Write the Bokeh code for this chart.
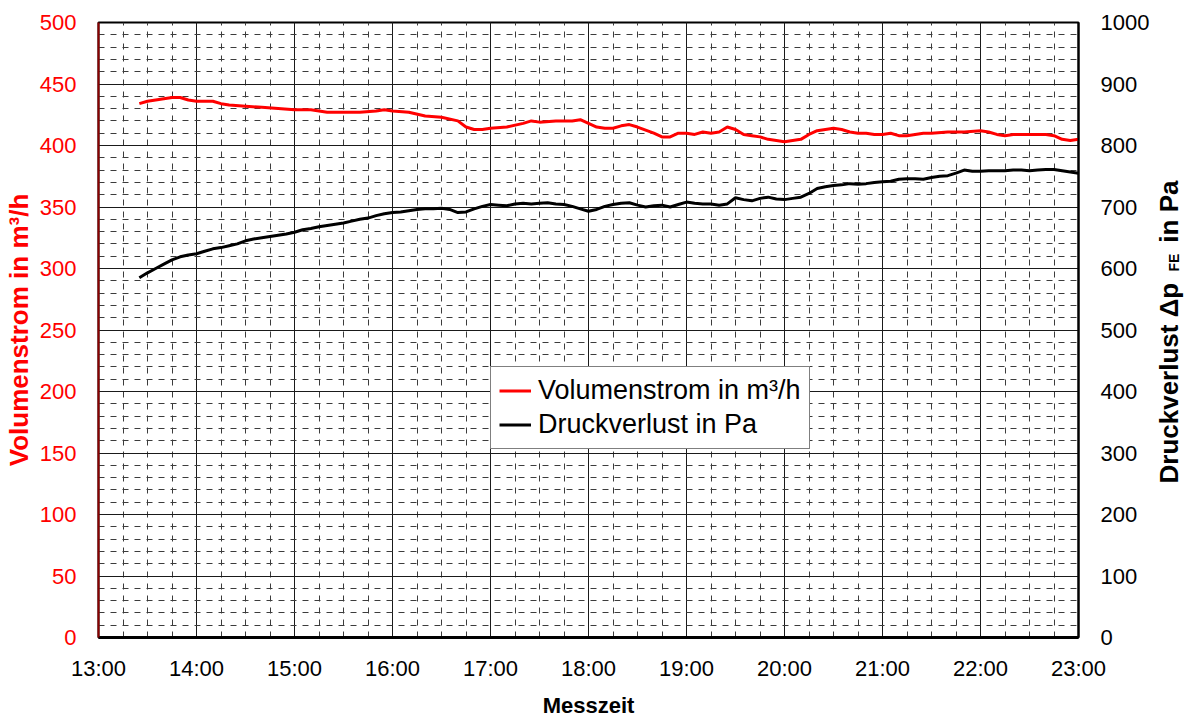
import math
from bokeh.plotting import figure
from bokeh.layouts import row
from bokeh.models import Range1d, LinearAxis, FixedTicker, Legend, LegendItem
from bokeh.core.properties import value
from bokeh.embed import file_html
from bokeh.resources import INLINE

# ---------------- data ----------------
hour_ticks = [13, 14, 15, 16, 17, 18, 19, 20, 21, 22, 23]
hour_labels = ["13:00", "14:00", "15:00", "16:00", "17:00", "18:00",
               "19:00", "20:00", "21:00", "22:00", "23:00"]
vol_ticks = [0, 50, 100, 150, 200, 250, 300, 350, 400, 450, 500]
pa_ticks = [0, 100, 200, 300, 400, 500, 600, 700, 800, 900, 1000]

vol_times = ["13:25", "13:30", "13:35", "13:40", "13:45", "13:50", "13:55", "14:00", "14:05", "14:10",
             "14:15", "14:20", "14:30", "14:40", "14:50", "15:00", "15:10", "15:20", "15:30", "15:40",
             "15:50", "15:55", "16:00", "16:10", "16:20", "16:30", "16:40", "16:45", "16:50", "16:55",
             "17:00", "17:10", "17:20", "17:25", "17:30", "17:40", "17:50", "17:55", "18:00", "18:05",
             "18:10", "18:15", "18:20", "18:25", "18:30", "18:40", "18:45", "18:50", "18:55", "19:00",
             "19:05", "19:10", "19:15", "19:20", "19:25", "19:30", "19:35", "19:40", "19:45", "19:50",
             "19:55", "20:00", "20:05", "20:10", "20:15", "20:20", "20:25", "20:30", "20:35", "20:40",
             "20:45", "20:50", "20:55", "21:00", "21:05", "21:10", "21:15", "21:20", "21:25", "21:30",
             "21:40", "21:50", "22:00", "22:05", "22:10", "22:15", "22:20", "22:30", "22:40", "22:45",
             "22:50", "22:55", "23:00"]
vol_values = [434, 436, 437, 438, 439, 439, 437, 436, 436, 436,
              434, 433, 432, 431, 430, 429, 429, 427, 427, 427,
              428, 429, 428, 427, 424, 423, 420, 415, 413, 413,
              414, 415, 418, 420, 419, 420, 420, 421, 418, 415,
              414, 414, 416, 417, 415, 410, 407, 407, 410, 410,
              409, 411, 410, 411, 415, 413, 409, 408, 407, 405,
              404, 403, 404, 405, 409, 412, 413, 414, 413, 411,
              410, 410, 409, 409, 410, 408, 408, 409, 410, 410,
              411, 411, 412, 411, 409, 408, 409, 409, 409, 408,
              405, 404, 405]

dp_times = ["13:25", "13:30", "13:35", "13:40", "13:45", "13:50", "13:55", "14:00", "14:05", "14:10",
            "14:15", "14:20", "14:25", "14:30", "14:35", "14:40", "14:45", "14:50", "14:55", "15:00",
            "15:05", "15:10", "15:15", "15:20", "15:25", "15:30", "15:35", "15:40", "15:45", "15:50",
            "15:55", "16:00", "16:05", "16:10", "16:15", "16:20", "16:25", "16:30", "16:35", "16:40",
            "16:45", "16:50", "16:55", "17:00", "17:05", "17:10", "17:15", "17:20", "17:25", "17:30",
            "17:35", "17:40", "17:45", "17:50", "17:55", "18:00", "18:05", "18:10", "18:15", "18:20",
            "18:25", "18:30", "18:35", "18:40", "18:45", "18:50", "18:55", "19:00", "19:05", "19:10",
            "19:15", "19:20", "19:25", "19:30", "19:35", "19:40", "19:45", "19:50", "19:55", "20:00",
            "20:05", "20:10", "20:15", "20:20", "20:25", "20:30", "20:35", "20:40", "20:45", "20:50",
            "20:55", "21:00", "21:05", "21:10", "21:15", "21:20", "21:25", "21:30", "21:35", "21:40",
            "21:45", "21:50", "21:55", "22:00", "22:05", "22:10", "22:15", "22:20", "22:25", "22:30",
            "22:35", "22:40", "22:45", "22:50", "22:55", "23:00"]
dp_values = [585, 593, 600, 607, 614, 619, 622, 624, 628, 632,
             634, 637, 640, 645, 648, 650, 652, 654, 656, 659,
             663, 665, 668, 670, 672, 674, 677, 680, 682, 686,
             689, 691, 692, 694, 696, 697, 697, 698, 696, 691,
             692, 697, 701, 704, 703, 702, 705, 706, 705, 706,
             707, 705, 704, 701, 697, 693, 696, 701, 704, 706,
             707, 703, 700, 702, 703, 700, 704, 708, 706, 705,
             705, 703, 705, 715, 712, 710, 714, 716, 713, 712,
             714, 716, 722, 730, 733, 735, 736, 738, 737, 738,
             740, 741, 742, 745, 746, 746, 745, 748, 750, 751,
             755, 760, 758, 758, 759, 759, 759, 760, 760, 759,
             760, 761, 761, 759, 757, 755]

right_title_parts = ["Druckverlust Δp", "FE", "in Pa"]


def to_hours(t):
    h, m = t.split(":")
    return int(h) + int(m) / 60.0


vol_x = [to_hours(t) for t in vol_times]
dp_x = [to_hours(t) for t in dp_times]

FONT = "Liberation Sans"

p = figure(width=1152, height=720, output_backend="svg", toolbar_location=None,
           x_range=Range1d(13, 23), y_range=Range1d(0, 500),
           min_border_left=98, min_border_right=72, min_border_top=22, min_border_bottom=83)
p.extra_y_ranges = {"pa": Range1d(0, 1000)}
p.background_fill_color = "white"
p.border_fill_color = "white"
p.outline_line_color = "black"
p.outline_line_width = 2

# tickers / grids
quarter = [13 + i * 0.25 for i in range(41)]
tens = list(range(0, 501, 10))
xt = FixedTicker(ticks=hour_ticks, minor_ticks=quarter)
yt = FixedTicker(ticks=vol_ticks, minor_ticks=tens)
p.xaxis.ticker = xt
p.yaxis.ticker = yt
p.xgrid.ticker = xt
p.ygrid.ticker = yt
for g in (p.xgrid, p.ygrid):
    g.grid_line_color = "#1a1a1a"
    g.grid_line_width = 1
    g.minor_grid_line_color = "#3c3c3c"
    g.minor_grid_line_width = 1
    g.minor_grid_line_dash = "6 6"

p.xaxis.major_label_overrides = {h: l for h, l in zip(hour_ticks, hour_labels)}

# right axis
ra = LinearAxis(y_range_name="pa", ticker=FixedTicker(ticks=pa_ticks))
p.add_layout(ra, "right")

for ax in p.axis:
    ax.major_tick_line_color = None
    ax.minor_tick_line_color = None
    ax.major_label_text_font = FONT
    ax.major_label_text_font_size = "22px"
    ax.major_label_standoff = 16
    ax.axis_label_text_font = FONT
    ax.axis_label_text_font_style = "bold"

p.xaxis.axis_line_color = "black"
p.xaxis.axis_line_width = 3
p.xaxis.major_label_text_color = "black"
p.xaxis.major_label_standoff = 12
p.xaxis.axis_label = "Messzeit"
p.xaxis.axis_label_text_font_size = "22px"
p.xaxis.axis_label_text_color = "black"
p.xaxis.axis_label_standoff = 9

p.yaxis[0].axis_line_color = "#8B0000"
p.yaxis[0].axis_line_width = 2
p.yaxis[0].major_label_text_color = "#FF0000"
p.yaxis[0].axis_label = "Volumenstrom in m³/h"
p.yaxis[0].axis_label_text_color = "#FF0000"
p.yaxis[0].axis_label_text_font_size = "26px"
p.yaxis[0].axis_label_standoff = 3

ra.axis_line_color = "black"
ra.axis_line_width = 2
ra.major_label_text_color = "black"

# lines
r_vol = p.line(vol_x, vol_values, line_color="#FF0000", line_width=3)
r_dp = p.line(dp_x, dp_values, line_color="black", line_width=3, y_range_name="pa")

legend = Legend(items=[LegendItem(label="Volumenstrom in m³/h", renderers=[r_vol]),
                       LegendItem(label="Druckverlust in Pa", renderers=[r_dp])],
                location=(392, 188))
legend.label_text_font = FONT
legend.label_text_font_size = "27px"
legend.label_text_color = "black"
legend.border_line_color = "black"
legend.border_line_width = 1
legend.background_fill_color = "white"
legend.background_fill_alpha = 1
legend.glyph_width = 32
legend.glyph_height = 31
legend.label_height = 31
legend.label_standoff = 7
legend.padding = 8
legend.spacing = 3
p.add_layout(legend)

# narrow strip on the right holding the right-axis title (with subscript).
# Its frame is aligned with the main frame (page y 22..637), so y is in
# "pixels from the bottom of the page".
t = figure(width=32, height=720, output_backend="svg", toolbar_location=None,
           x_range=Range1d(0, 32), y_range=Range1d(83, 698), min_border=0,
           x_axis_location=None, y_axis_location=None)
t.outline_line_color = None
t.grid.visible = False
t.background_fill_color = "white"
t.border_fill_color = "white"
rot = math.pi / 2
common = dict(angle=rot, text_baseline="middle", text_font=value(FONT),
              text_font_style="bold", text_color="black")
t.text(x=[16], y=[237], text=[right_title_parts[0]], text_align="left",
       text_font_size="26px", **common)
t.text(x=[21], y=[449], text=[right_title_parts[1]], text_align="left",
       text_font_size="14px", **common)
t.text(x=[16], y=[540], text=[right_title_parts[2]], text_align="right",
       text_font_size="26px", **common)

layout = row(p, t, spacing=0)
open("out.html", "w").write(file_html(layout, INLINE))
